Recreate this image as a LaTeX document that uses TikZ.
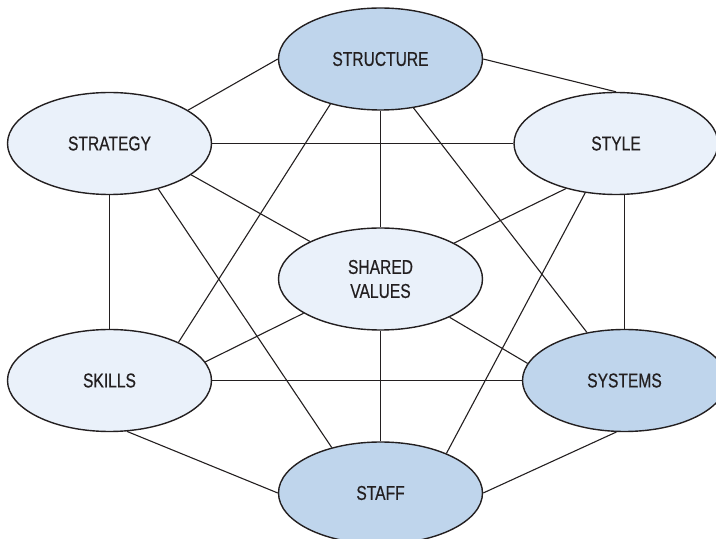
\documentclass[tikz,border=0pt]{standalone}
\usepackage{fontspec}
\setmainfont{Liberation Sans}[FakeStretch=0.78, FakeBold=0.5]
\usetikzlibrary{shapes.geometric}

\definecolor{inkdark}{HTML}{231F20}
\definecolor{palefill}{HTML}{EAF1FA}
\definecolor{deepfill}{HTML}{BFD5EC}

\tikzset{
  element/.style={ellipse, draw=inkdark, line width=1.4pt, minimum width=204pt,
    minimum height=102pt, inner sep=0pt, text=inkdark, align=center,
    font=\fontsize{20pt}{24pt}\selectfont},
  soft/.style={element, fill=palefill},
  hard/.style={element, fill=deepfill},
  link/.style={draw=inkdark, line width=1.1pt}
}

\begin{document}
\begin{tikzpicture}[x=1pt, y=1pt]
  \useasboundingbox (0,0) rectangle (716,539);

  % centres of the seven elements
  \path
    (380.5,480)   coordinate (p-structure)
    (109.5,395.5) coordinate (p-strategy)
    (616,395.5)   coordinate (p-style)
    (380.5,260)   coordinate (p-shared)
    (109.5,158.5) coordinate (p-skills)
    (624.5,158.5) coordinate (p-systems)
    (380.5,46)    coordinate (p-staff);

  \node[hard] (structure) at (p-structure) {STRUCTURE};
  \node[soft] (strategy)  at (p-strategy)  {STRATEGY};
  \node[soft] (style)     at (p-style)     {STYLE};
  \node[soft] (shared)    at (p-shared)    {SHARED\\VALUES};
  \node[soft] (skills)    at (p-skills)    {SKILLS};
  \node[hard] (systems)   at (p-systems)   {SYSTEMS};
  \node[hard] (staff)     at (p-staff)     {STAFF};

  % links between every pair of related elements
  \draw[link] (strategy.23.8)  -- (structure.180);
  \draw[link] (structure.0)    -- (style.90);
  \draw[link] (strategy.east)  -- (style.west);
  \draw[link] (strategy.south) -- (skills.north);
  \draw[link] (strategy.-21.6) -- (shared.152.5);
  \draw[link] (strategy.-43.8) -- (staff.137.4);
  \draw[link] (structure.222.6) -- (skills.29.8);
  \draw[link] (structure.south) -- (shared.north);
  \draw[link] (structure.-56)  -- (systems.128.4);
  \draw[link] (style.-138)     -- (shared.26.9);
  \draw[link] (style.-122.3)   -- (staff.31.8);
  \draw[link] (systems.north)  -- (systems.north |- style.south);
  \draw[link] (shared.204.6)   -- (skills.11.9);
  \draw[link] (shared.-29.2)   -- (systems.170);
  \draw[link] (shared.south)   -- (staff.north);
  \draw[link] (skills.east)    -- (systems.west);
  \draw[link] (skills.-71.6)   -- (staff.180);
  \draw[link] (systems.-99)    -- (staff.0);
\end{tikzpicture}
\end{document}
